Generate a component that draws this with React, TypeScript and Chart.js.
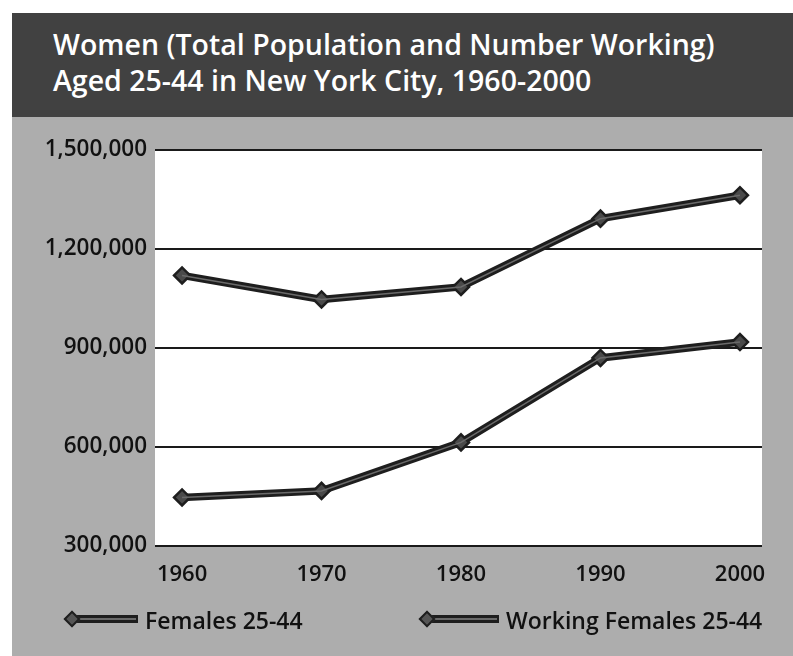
import React, { useEffect, useRef } from "react";
import { Chart, registerables } from "chart.js";

Chart.register(...registerables);

const titleLines = [
  "Women (Total Population and Number Working)",
  "Aged 25-44 in New York City, 1960-2000",
];
const years = [1960, 1970, 1980, 1990, 2000];
const femalesLabel = "Females 25-44";
const workingLabel = "Working Females 25-44";
const females = [1120000, 1047000, 1085000, 1292000, 1363000];
const working = [447000, 467000, 614000, 870000, 918000];
const yTicks = [300000, 600000, 900000, 1200000, 1500000];

const FONT = "'Open Sans', 'Noto Sans', sans-serif";
const BG = "#adadad";
const HEADER = "#414141";
const LINE_OUTER = "#1e1e1e";
const LINE_INNER = "#6a6a6a";

const whiteArea = {
  id: "whiteArea",
  beforeDraw(chart: any) {
    const { ctx, chartArea } = chart;
    ctx.save();
    ctx.fillStyle = "#ffffff";
    ctx.fillRect(chartArea.left, chartArea.top, chartArea.right - chartArea.left, chartArea.bottom - chartArea.top);
    ctx.restore();
  },
};

function LegendItem({ left, textLeft, label }: { left: number; textLeft: number; label: string }) {
  return (
    <>
      <div
        style={{
          position: "absolute",
          left: left + 6,
          top: 619 - 117 - 4,
          width: textLeft - left - 13,
          height: 8,
          background: LINE_OUTER,
        }}
      >
        <div style={{ position: "absolute", left: 0, right: 2, top: 3, height: 2, background: LINE_INNER }} />
      </div>
      <div
        style={{
          position: "absolute",
          left: left + 2.5,
          top: 619 - 117 - 6,
          width: 12,
          height: 12,
          background: "#555",
          border: `2px solid ${LINE_OUTER}`,
          boxSizing: "border-box",
          transform: "rotate(45deg)",
        }}
      />
      <div
        style={{
          position: "absolute",
          left: textLeft,
          top: 619 - 117 - 15,
          height: 32,
          lineHeight: "32px",
          fontFamily: FONT,
          fontSize: 23,
          fontWeight: 600,
          color: "#111",
          whiteSpace: "nowrap",
        }}
      >
        {label}
      </div>
    </>
  );
}

export default function App() {
  const ref = useRef<HTMLCanvasElement | null>(null);

  useEffect(() => {
    if (!ref.current) return;
    const mk = (vals: number[]) => vals.map((v, i) => ({ x: years[i], y: v }));
    const outer = (label: string, vals: number[]) => ({
      label,
      data: mk(vals),
      borderColor: LINE_OUTER,
      borderWidth: 7.5,
      pointStyle: "rectRot",
      pointRadius: 8,
      pointBackgroundColor: "#4a4a4a",
      pointBorderColor: LINE_OUTER,
      pointBorderWidth: 2.5,
      tension: 0,
      order: 2,
    });
    const inner = (label: string, vals: number[]) => ({
      label: label + " (inner)",
      data: mk(vals),
      borderColor: LINE_INNER,
      borderWidth: 1.5,
      pointRadius: 0,
      tension: 0,
      order: 1,
    });
    const chart = new Chart(ref.current, {
      type: "line",
      data: {
        datasets: [
          outer(femalesLabel, females),
          inner(femalesLabel, females),
          outer(workingLabel, working),
          inner(workingLabel, working),
        ] as any,
      },
      options: {
        animation: false,
        responsive: false,
        events: [],
        layout: { padding: { left: 0, right: 31, top: 33, bottom: 0 } },
        plugins: { legend: { display: false }, tooltip: { enabled: false }, title: { display: false } },
        scales: {
          x: {
            type: "linear",
            min: 1958.06,
            max: 2001.58,
            afterBuildTicks: (s: any) => {
              s.ticks = years.map((v) => ({ value: v }));
            },
            afterFit: (s: any) => {
              s.height = 54;
            },
            grid: { display: false },
            border: { display: false },
            ticks: {
              autoSkip: false,
              maxRotation: 0,
              padding: 8,
              color: "#111",
              font: { family: FONT, size: 22, weight: "600" },
              callback: (v: any) => String(v),
            },
          },
          y: {
            min: yTicks[0],
            max: yTicks[yTicks.length - 1],
            afterBuildTicks: (s: any) => {
              s.ticks = yTicks.map((v) => ({ value: v }));
            },
            afterFit: (s: any) => {
              s.width = 143;
            },
            grid: { color: "#1a1a1a", lineWidth: 2, drawTicks: false },
            border: { display: false },
            ticks: {
              padding: 8,
              color: "#111",
              font: { family: FONT, size: 22.5, weight: "600" },
              callback: (v: any) => Number(v).toLocaleString("en-US"),
            },
          },
        },
      },
      plugins: [whiteArea],
    });
    return () => chart.destroy();
  }, []);

  return (
    <div style={{ position: "absolute", left: 12, top: 13, width: 781, height: 643 }}>
      <div style={{ position: "absolute", left: 0, top: 0, width: 781, height: 104, background: HEADER }}>
        <div
          style={{
            position: "absolute",
            left: 41,
            top: 13,
            fontFamily: FONT,
            fontSize: 28.5,
            fontWeight: 600,
            lineHeight: "36px",
            color: "#ffffff",
            whiteSpace: "nowrap",
          }}
        >
          {titleLines.map((t) => (
            <div key={t}>{t}</div>
          ))}
        </div>
      </div>
      <div style={{ position: "absolute", left: 0, top: 104, width: 781, height: 539, background: BG }}>
        <canvas ref={ref} width={781} height={483} style={{ position: "absolute", left: 0, top: 0 }} />
        <div style={{ position: "absolute", left: -12, top: 0, width: 793, height: 539 }}>
          <LegendItem left={63} textLeft={145} label={femalesLabel} />
          <LegendItem left={418} textLeft={506} label={workingLabel} />
        </div>
      </div>
    </div>
  );
}
